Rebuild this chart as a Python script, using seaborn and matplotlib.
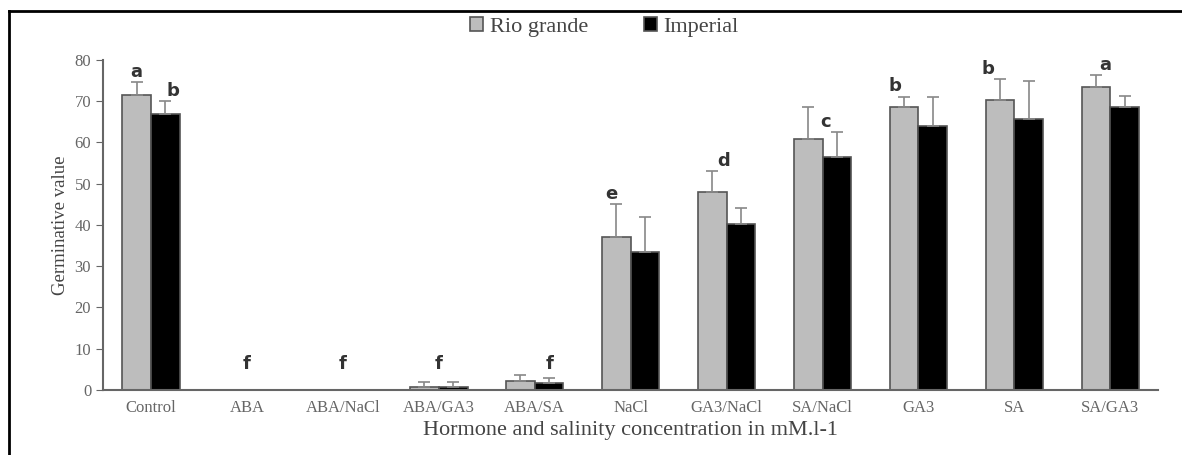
import numpy as np
import pandas as pd
import matplotlib
matplotlib.use('Agg')
import matplotlib.pyplot as plt
import seaborn as sns

# Data
treatments = ['Control', 'ABA', 'ABA/NaCl', 'ABA/GA3', 'ABA/SA', 'NaCl',
              'GA3/NaCl', 'SA/NaCl', 'GA3', 'SA', 'SA/GA3']
rio_grande = [71.6, 0.0, 0.0, 0.8, 2.2, 37.0, 48.0, 60.8, 68.5, 70.3, 73.4]
rio_err = [3.1, 0.0, 0.0, 1.2, 1.4, 8.0, 5.0, 7.8, 2.6, 5.0, 2.9]
imperial = [66.9, 0.0, 0.0, 0.8, 1.6, 33.5, 40.3, 56.5, 64.0, 65.6, 68.6]
imp_err = [3.1, 0.0, 0.0, 1.2, 1.4, 8.5, 3.8, 6.0, 7.0, 9.4, 2.7]
letters = ['a', 'b', 'f', 'f', 'f', 'f', 'e', 'd', 'c', 'b', 'b', 'a']
# (treatment index, series index) each letter sits above
letter_bars = [(0, 0), (0, 1), (1, None), (2, None), (3, None), (4, 1),
               (5, 0), (6, 0), (7, 1), (8, 0), (9, 0), (10, 0)]
letter_dx = [0.0, 0.08, 0.0, 0.0, 0.0, 0.0, -0.05, 0.12, -0.12, -0.1, -0.13, 0.1]

df = pd.DataFrame({
    'Treatment': treatments * 2,
    'Variety': ['Rio grande'] * len(treatments) + ['Imperial'] * len(treatments),
    'Value': rio_grande + imperial,
})

fig = plt.figure(figsize=(11.82, 4.55), dpi=100)
ax = fig.add_axes([0.0871, 0.1429, 0.8929, 0.7253])

sns.barplot(data=df, x='Treatment', y='Value', hue='Variety',
            palette=['#bdbdbd', '#000000'], width=0.6, ax=ax,
            edgecolor='#555555', linewidth=1.2, errorbar=None, legend=True)

# error bars (upper only)
n = len(treatments)
bars = ax.patches[:2 * n]
centers = {}
for s, (vals, errs) in enumerate([(rio_grande, rio_err), (imperial, imp_err)]):
    for i in range(n):
        p = bars[s * n + i]
        xc = p.get_x() + p.get_width() / 2
        centers[(i, s)] = xc
        if errs[i] > 0:
            ax.errorbar(xc, vals[i], yerr=[[0], [errs[i]]], fmt='none',
                        ecolor='#888888', elinewidth=1.2, capsize=4, capthick=1.2)

# significance letters
for lab, (i, s), dx in zip(letters, letter_bars, letter_dx):
    if s is None:
        xc = i
        top = max(rio_grande[i] + rio_err[i], imperial[i] + imp_err[i])
    else:
        xc = centers[(i, s)]
        top = [rio_grande, imperial][s][i] + [rio_err, imp_err][s][i]
    ax.text(xc + dx, max(top + 0.3, 4), lab, ha='center', va='bottom',
            fontsize=13, fontweight='bold', color='#333333', family='DejaVu Sans')

ax.set_xlim(-0.5, n - 0.5)
ax.set_ylim(0, 80)
ax.set_yticks(range(0, 81, 10))
ax.set_ylabel('Germinative value', family='Liberation Serif', fontsize=13.5, color='#444444')
ax.set_xlabel('Hormone and salinity concentration in mM.l-1', family='Liberation Serif',
              fontsize=16, color='#444444', labelpad=4)
for lbl in ax.get_xticklabels() + ax.get_yticklabels():
    lbl.set_family('Liberation Serif')
    lbl.set_fontsize(12)
    lbl.set_color('#666666')
ax.tick_params(axis='x', length=0, pad=7)
ax.tick_params(axis='y', length=5, color='#666666', direction='out')
for side in ['top', 'right']:
    ax.spines[side].set_visible(False)
for side in ['left', 'bottom']:
    ax.spines[side].set_color('#666666')
    ax.spines[side].set_linewidth(1.5)

leg = ax.legend(loc='center', bbox_to_anchor=(0.475, 1.1), ncol=2, frameon=False,
                prop={'family': 'Liberation Serif', 'size': 16}, handlelength=0.6,
                handleheight=0.6, handletextpad=0.3, columnspacing=2.5)
for t in leg.get_texts():
    t.set_color('#444444')

# outer frame of the figure
fig.add_artist(plt.Line2D([9 / 1182, 9 / 1182], [0, 1 - 11 / 455], transform=fig.transFigure,
                          color='black', linewidth=2))
fig.add_artist(plt.Line2D([9 / 1182, 1], [1 - 11 / 455, 1 - 11 / 455], transform=fig.transFigure,
                          color='black', linewidth=2))

fig.savefig('out.png', dpi=100)
